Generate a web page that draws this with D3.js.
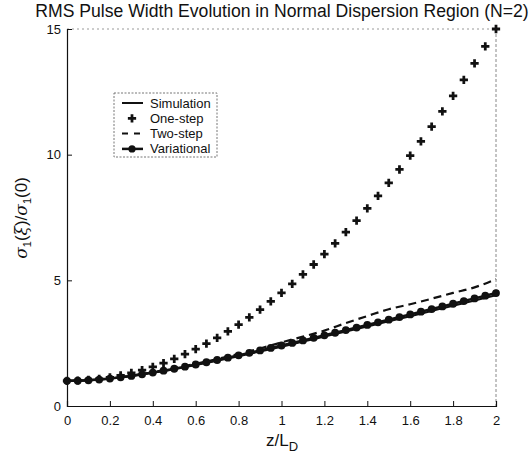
<!DOCTYPE html>
<html lang="en">
<head>
<meta charset="UTF-8">
<title>RMS Pulse Width Evolution</title>
<script src="https://d3js.org/d3.v7.min.js"></script>
<style>
  body { margin: 0; background: #fff; }
  svg text { font-family: "Liberation Sans", Arial, sans-serif; fill: #111; }
</style>
</head>
<body>
<div id="chart"></div>
<script>
// z/L_D sample points
const zFine = d3.range(0, 41).map(i => +(i * 0.05).toFixed(2));
const zCoarse = d3.range(0, 21).map(i => +(i * 0.1).toFixed(1));

// One-step (plus markers), every 0.05
const oneStep = [1.00, 1.01, 1.035, 1.08, 1.14, 1.22, 1.315, 1.43, 1.56, 1.71,
  1.875, 2.06, 2.26, 2.48, 2.715, 2.97, 3.24, 3.53, 3.835, 4.16,
  4.50, 4.86, 5.235, 5.63, 6.04, 6.47, 6.915, 7.38, 7.86, 8.36,
  8.875, 9.41, 9.96, 10.53, 11.115, 11.72, 12.34, 12.98, 13.635, 14.31, 15.0];

// Variational (line with dots), every 0.05
const variational = [1.000, 1.006, 1.024, 1.053, 1.092, 1.140, 1.197, 1.260, 1.330, 1.404,
  1.483, 1.566, 1.652, 1.740, 1.831, 1.924, 2.018, 2.114, 2.211, 2.309,
  2.408, 2.508, 2.609, 2.711, 2.813, 2.915, 3.019, 3.122, 3.226, 3.330,
  3.435, 3.540, 3.645, 3.751, 3.856, 3.962, 4.068, 4.175, 4.281, 4.388, 4.494];

// Simulation (solid), every 0.1
const simulation = [1.00, 1.023, 1.088, 1.190, 1.318, 1.466, 1.629, 1.802, 1.983, 2.169,
  2.36, 2.562, 2.761, 2.962, 3.165, 3.369, 3.574, 3.781, 3.988, 4.196, 4.405];

// Two-step (dashed), every 0.1
const twoStep = [1.00, 1.025, 1.095, 1.205, 1.345, 1.505, 1.68, 1.87, 2.07, 2.29,
  2.53, 2.76, 3.0, 3.3, 3.58, 3.85, 4.05, 4.27, 4.5, 4.72, 5.05];

const xTicks = [0, 0.2, 0.4, 0.6, 0.8, 1, 1.2, 1.4, 1.6, 1.8, 2];
const yTicks = [0, 5, 10, 15];
const legendNames = ["Simulation", "One-step", "Two-step", "Variational"];

const W = 532, H = 458;
const margin = { top: 29, right: 36, bottom: 52, left: 67 };
const width = W - margin.left - margin.right;
const height = H - margin.top - margin.bottom;

const svg = d3.select("#chart").append("svg")
  .attr("width", W).attr("height", H);

const g = svg.append("g")
  .attr("transform", `translate(${margin.left},${margin.top})`);

const x = d3.scaleLinear().domain([0, 2]).range([0, width]);
const y = d3.scaleLinear().domain([0, 15]).range([height, 0]);

// frame: top and right faint/dotted like the scan
g.append("line").attr("x1", 0).attr("x2", width).attr("y1", 0).attr("y2", 0)
  .attr("stroke", "#999").attr("stroke-dasharray", "2,3");
g.append("line").attr("x1", width).attr("x2", width).attr("y1", 0).attr("y2", height)
  .attr("stroke", "#888").attr("stroke-dasharray", "3,2");

// axes with inward ticks
const xAxis = g.append("g")
  .attr("transform", `translate(0,${height})`)
  .call(d3.axisBottom(x).tickValues(xTicks).tickSize(-5).tickPadding(10)
    .tickFormat(d3.format("")));
const yAxis = g.append("g")
  .call(d3.axisLeft(y).tickValues(yTicks).tickSize(-5).tickPadding(6));

[xAxis, yAxis].forEach(a => {
  a.select(".domain").attr("stroke", "#111").attr("stroke-width", 1.2);
  a.selectAll(".tick line").attr("stroke", "#111");
  a.selectAll("text").attr("font-size", 13).attr("fill", "#111")
    .attr("font-family", "Liberation Sans, Arial, sans-serif");
});

// data lines
const lineFine = d3.line().x((d, i) => x(zFine[i])).y(d => y(d));
const lineCoarse = d3.line().curve(d3.curveMonotoneX)
  .x((d, i) => x(zCoarse[i])).y(d => y(d));

g.append("path").datum(simulation)
  .attr("fill", "none").attr("stroke", "#111").attr("stroke-width", 2)
  .attr("d", lineCoarse);

g.append("path").datum(twoStep)
  .attr("fill", "none").attr("stroke", "#111").attr("stroke-width", 2.2)
  .attr("stroke-dasharray", "8,5")
  .attr("d", lineCoarse);

g.append("path").datum(variational)
  .attr("fill", "none").attr("stroke", "#111").attr("stroke-width", 2.5)
  .attr("d", lineFine);

g.selectAll("circle.var")
  .data(variational)
  .enter().append("circle")
  .attr("class", "var")
  .attr("cx", (d, i) => x(zFine[i]))
  .attr("cy", d => y(d))
  .attr("r", 3.9)
  .attr("fill", "#111");

// plus markers for one-step
const plus = d3.symbol().type(d3.symbolCross).size(38);
g.selectAll("path.one")
  .data(oneStep)
  .enter().append("path")
  .attr("class", "one")
  .attr("transform", (d, i) => `translate(${x(zFine[i])},${y(d)})`)
  .attr("d", plus)
  .attr("fill", "#111");

// title
svg.append("text")
  .attr("x", 282).attr("y", 17)
  .attr("text-anchor", "middle")
  .attr("font-size", 17.6)
  .text("RMS Pulse Width Evolution in Normal Dispersion Region (N=2)");

// x label
const xl = svg.append("text")
  .attr("x", 282).attr("y", 446)
  .attr("text-anchor", "middle")
  .attr("font-size", 17);
xl.append("tspan").text("z/L");
xl.append("tspan").attr("font-size", 13).attr("dy", 5).text("D");

// y label
const yl = svg.append("text")
  .attr("transform", "translate(27,218) rotate(-90)")
  .attr("text-anchor", "middle")
  .attr("font-size", 17);
yl.append("tspan").attr("font-family", "DejaVu Serif, serif").attr("font-style", "italic").text("σ");
yl.append("tspan").attr("font-size", 11).attr("dy", 4).text("1");
yl.append("tspan").attr("dy", -4).text("(");
yl.append("tspan").attr("font-family", "DejaVu Serif, serif").attr("font-style", "italic").text("ξ");
yl.append("tspan").text(")/");
yl.append("tspan").attr("font-family", "DejaVu Serif, serif").attr("font-style", "italic").text("σ");
yl.append("tspan").attr("font-size", 11).attr("dy", 4).text("1");
yl.append("tspan").attr("dy", -4).text("(0)");

// legend
const lg = svg.append("g").attr("transform", "translate(114,93)");
lg.append("rect").attr("width", 103).attr("height", 64)
  .attr("fill", "#fff").attr("stroke", "#777").attr("stroke-dasharray", "2,1.5");
const rows = lg.selectAll("g.row").data(legendNames).enter().append("g")
  .attr("class", "row")
  .attr("transform", (d, i) => `translate(0,${10 + i * 15.3})`);
rows.append("text").attr("x", 36).attr("y", 4.5).attr("font-size", 13).text(d => d);
rows.each(function (d, i) {
  const r = d3.select(this);
  if (i === 0 || i === 2 || i === 3) {
    r.append("line").attr("x1", 8).attr("x2", 29).attr("y1", 0).attr("y2", 0)
      .attr("stroke", "#111").attr("stroke-width", i === 3 ? 2.5 : 2)
      .attr("stroke-dasharray", i === 2 ? "6,6" : null);
  }
  if (i === 1) r.append("path").attr("transform", "translate(18,0)").attr("d", plus).attr("fill", "#111");
  if (i === 3) r.append("circle").attr("cx", 18).attr("cy", 0).attr("r", 3.6).attr("fill", "#111");
});
</script>
</body>
</html>
